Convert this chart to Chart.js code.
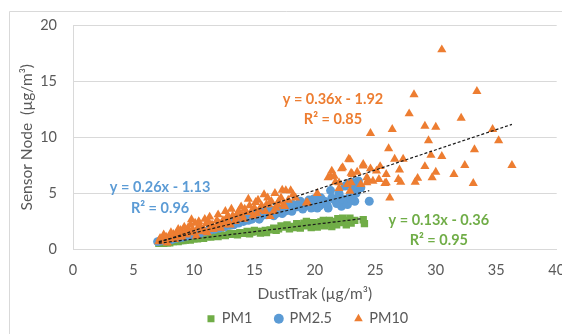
<!DOCTYPE html>
<html>
<head>
<meta charset="utf-8">
<script src="https://cdn.jsdelivr.net/npm/chart.js@4"></script>
<style>
  html, body { margin: 0; padding: 0; background: #ffffff; }
  #wrap { width: 562px; height: 334px; position: relative; }
</style>
</head>
<body>
<div id="wrap"><canvas id="c" width="562" height="334"></canvas></div>
<script>
// ---------- data ----------
const seriesNames = ["PM1", "PM2.5", "PM10"];

const pm1X = [7.1,7.3,7.5,7.6,7.8,8.0,8.1,8.3,8.5,8.7,8.9,9.1,9.3,9.5,9.7,10.0,10.3,10.6,11.1,11.4,11.8,12.2,12.6,13.0,13.4,13.8,14.1,14.4,14.8,15.2,15.5,15.9,16.3,16.6,17.0,17.4,17.7,18.0,18.3,18.6,18.8,19.1,19.4,19.7,20.0,20.3,20.5,20.8,21.1,21.4,21.6,21.9,22.1,22.4,22.6,22.9,23.0,23.3,24.0,24.1,
  10.8,12.0,12.9,13.6,14.6,15.0,15.7,16.0,16.8,17.2,17.9,18.5,19.3,19.9,20.2,20.7,21.2,21.8,22.3,22.7];
const pm1Y = [0.55,0.6,0.55,0.65,0.6,0.6,0.7,0.7,0.75,0.7,0.8,0.8,0.85,0.9,0.85,0.95,0.95,1.05,1.15,1.1,1.2,1.3,1.25,1.35,1.4,1.5,1.45,1.6,1.55,1.6,1.46,1.7,1.75,1.9,1.85,2.0,2.2,2.05,1.95,2.15,1.9,2.35,2.1,1.95,2.2,2.3,2.45,2.1,2.3,2.05,2.5,2.75,2.4,2.55,2.2,2.8,2.35,2.6,2.65,2.3,
  1.0,1.15,1.45,1.3,1.4,1.7,1.6,1.5,1.7,2.1,1.85,2.3,2.5,2.4,2.0,2.6,2.6,2.2,2.8,2.6];

const pm25X = [7.0,7.2,7.4,7.6,7.9,8.2,8.5,8.8,9.1,9.4,9.8,10.1,10.5,10.9,11.3,11.7,12.1,12.5,12.9,13.3,13.7,14.1,14.5,14.8,15.2,15.6,16.0,16.4,16.8,17.1,17.5,18.0,18.4,18.8,19.2,19.7,20.0,20.4,20.8,21.1,21.3,21.6,21.9,22.2,22.5,22.9,23.2,23.3,23.5,23.6,22.5,24.5,19.5,20.5,18.2,17.8,16.6,15.5,14.0,13.0,
  13.5,14.3,14.9,15.4,15.8,16.2,16.9,17.3,17.6,18.1,18.6,19.0,19.4,19.9,20.2,20.6,21.0,21.4,21.8,22.0,22.3,22.7,23.0,23.4,23.8,22.8,23.1];
const pm25Y = [0.7,0.75,0.8,0.75,0.85,0.9,1.0,1.05,1.1,1.2,1.3,1.35,1.45,1.6,1.7,1.8,1.9,2.0,2.15,2.2,2.35,2.5,2.6,2.7,2.95,3.0,3.1,3.35,3.2,3.55,3.4,3.7,3.9,4.3,4.0,3.7,4.15,3.9,4.3,3.7,5.25,4.45,4.6,3.85,4.3,4.75,5.35,4.3,5.95,6.1,5.65,4.3,4.4,4.6,4.0,3.5,3.0,3.3,2.8,2.5,
  2.6,2.9,3.1,2.7,3.4,3.6,3.7,3.2,3.9,3.4,3.8,3.6,4.1,4.5,3.7,4.1,4.0,4.6,4.1,5.0,4.5,4.0,4.5,5.0,5.5,5.9,6.0];

const pm10X = [7.1,7.3,7.4,7.6,7.7,7.9,8.0,8.2,8.3,8.5,8.6,8.8,8.9,9.1,9.3,9.5,9.6,9.8,9.9,10.1,10.3,10.5,10.8,11.0,11.2,11.4,11.6,11.9,12.1,12.4,12.7,12.9,13.2,13.5,13.7,14.0,14.2,14.5,14.7,15.0,15.1,15.4,15.8,16.0,16.2,16.3,16.6,16.8,16.9,17.2,17.4,17.5,17.6,18.0,18.4,19.3,19.4,20.2,21.1,21.3,21.4,21.7,22.0,22.0,22.2,22.3,22.8,22.9,22.9,23.0,23.1,23.0,24.0,24.0,24.3,24.4,24.6,24.6,24.8,25.1,25.3,25.4,25.8,25.9,26.1,26.2,26.4,26.6,26.9,27.0,27.1,27.3,27.8,28.2,28.3,28.5,29.1,29.1,29.4,29.6,29.7,30.0,30.0,30.5,30.5,31.5,32.1,32.4,33.1,33.2,33.4,34.7,35.2,36.3,
  7.2,7.5,7.8,8.1,8.4,8.7,9.0,9.2,9.4,9.7,10.0,10.2,10.4,10.6,10.9,11.1,11.3,11.5,11.8,12.0,12.2,12.5,12.6,12.8,13.0,13.1,13.4,13.6,13.9,14.1,14.3,14.6,14.9,15.2,15.3,15.6,15.9,16.1,16.4,16.7,17.0,17.3,17.8,18.2,21.6,22.7,23.5,23.8,24.3,25.9];
const pm10Y = [0.7,0.8,0.95,0.75,1.1,0.9,1.2,1.0,1.35,1.15,1.5,1.3,1.7,1.4,1.6,1.9,1.5,2.66,1.75,2.36,1.9,2.1,1.8,2.3,2.5,2.0,1.8,2.6,2.3,2.6,2.8,2.4,3.0,2.8,3.4,3.0,3.6,4.5,3.3,3.7,4.2,3.5,4.9,4.0,4.0,2.96,3.4,3.7,4.0,4.6,4.0,3.85,5.25,5.25,4.6,4.15,4.15,5.0,6.4,6.5,7.0,6.0,5.45,5.95,7.2,7.3,8.05,8.0,5.2,6.8,6.7,5.95,7.6,7.45,6.4,6.2,7.2,10.35,6.1,7.0,6.25,7.4,5.9,5.95,9.0,4.6,10.7,8.05,6.25,7.1,6.0,8.05,12.1,13.8,6.0,6.35,11.0,7.4,9.7,8.4,6.4,10.9,6.9,17.8,8.3,6.7,11.7,7.5,5.9,8.9,14.1,10.7,9.7,7.5,
  1.0,1.3,0.6,1.5,0.9,1.8,1.1,2.0,1.3,2.2,1.5,1.2,2.5,1.6,2.7,1.5,2.9,2.2,2.0,3.1,1.9,2.2,3.4,3.0,2.2,3.6,2.5,3.2,3.8,2.7,3.3,3.9,3.0,3.2,4.4,3.9,3.4,4.6,4.3,5.0,4.3,5.3,4.4,4.9,6.55,5.8,6.9,5.8,5.95,6.7];

// trendline equations shown on the chart: y = slope * x + intercept
const trendSlope = [0.13, 0.26, 0.36];
const trendIntercept = [-0.36, -1.13, -1.92];
const trendXFrom = [7.1, 7.1, 7.1];
const trendXTo = [23.9, 24.5, 36.3];
const trendLabels = [
  ["y = 0.13x - 0.36", "R\u00B2 = 0.95"],
  ["y = 0.26x - 1.13", "R\u00B2 = 0.96"],
  ["y = 0.36x - 1.92", "R\u00B2 = 0.85"]
];

const xTicksMin = 0, xTicksMax = 40, xStep = 5;
const yTicksMin = 0, yTicksMax = 20, yStep = 5;

// ---------- styling ----------
const colors = ["#70AD47", "#5B9BD5", "#ED7D31"];
const shapes = ["rect", "circle", "triangle"];
const radii = [5.2, 4.5, 5.3];
const txtColor = "#595959";
const gridColor = "#D9D9D9";
const FONT = "Lato, 'Open Sans', 'DejaVu Sans', sans-serif";

const xs = [pm1X, pm25X, pm10X];
const ys = [pm1Y, pm25Y, pm10Y];

const datasets = [];
for (let s = 0; s < 3; s++) {
  datasets.push({
    type: "scatter",
    label: seriesNames[s],
    data: xs[s].map((x, i) => ({ x: x, y: ys[s][i] })),
    pointStyle: shapes[s],
    pointRadius: radii[s],
    pointHoverRadius: radii[s],
    backgroundColor: colors[s],
    borderColor: colors[s],
    pointBorderWidth: 0,
    order: 3 - s
  });
}
for (let s = 0; s < 3; s++) {
  datasets.push({
    type: "line",
    label: "trend " + seriesNames[s],
    data: [trendXFrom[s], trendXTo[s]].map(x => ({ x: x, y: trendSlope[s] * x + trendIntercept[s] })),
    borderColor: "#1a1a1a",
    borderWidth: 1.2,
    borderDash: [3, 2],
    pointRadius: 0,
    fill: false,
    order: 0
  });
}

// annotation anchors (data coordinates), one per series
const annot = [
  { x: 30.25, y: 2.58, dy: 1.8 },
  { x: 7.2, y: 5.5, dy: 1.8 },
  { x: 21.5, y: 13.4, dy: 1.8 }
];

const framePlugin = {
  id: "frame",
  beforeDraw(chart) {
    const ctx = chart.ctx;
    ctx.save();
    ctx.strokeStyle = gridColor;
    ctx.lineWidth = 1;
    ctx.beginPath();
    ctx.moveTo(9.5, 400);
    ctx.lineTo(9.5, 11.5);
    ctx.lineTo(700, 11.5);
    ctx.stroke();
    ctx.restore();
  }
};

// nudge the legend box a little to the left (the reference legend sits left of the plot centre)
const legendShift = {
  id: "legendShift",
  afterLayout(chart) {
    if (chart.legend) { chart.legend.right -= 14; chart.legend.width -= 14; }
  }
};

const labelPlugin = {
  id: "eqLabels",
  afterDatasetsDraw(chart) {
    const ctx = chart.ctx;
    const sx = chart.scales.x, sy = chart.scales.y;
    ctx.save();
    ctx.font = "bold 14.5px " + FONT;
    ctx.textAlign = "center";
    ctx.textBaseline = "middle";
    for (let s = 0; s < 3; s++) {
      ctx.fillStyle = colors[s];
      const px = sx.getPixelForValue(annot[s].x);
      ctx.fillText(trendLabels[s][0], px, sy.getPixelForValue(annot[s].y));
      ctx.fillText(trendLabels[s][1], px, sy.getPixelForValue(annot[s].y - annot[s].dy));
    }
    ctx.restore();
  }
};

new Chart(document.getElementById("c"), {
  type: "scatter",
  data: { datasets: datasets },
  plugins: [framePlugin, legendShift, labelPlugin],
  options: {
    responsive: false,
    animation: false,
    devicePixelRatio: 1,
    layout: { padding: { left: 10, top: 25, right: 4, bottom: -2 } },
    plugins: {
      tooltip: { enabled: false },
      legend: {
        position: "bottom",
        fullSize: false,
        labels: {
          usePointStyle: true,
          boxWidth: 7,
          boxHeight: 7,
          padding: 23,
          color: txtColor,
          font: { family: FONT, size: 14.5 },
          filter: (item) => item.datasetIndex < 3,
          sort: (a, b) => a.datasetIndex - b.datasetIndex
        }
      }
    },
    scales: {
      x: {
        type: "linear",
        min: xTicksMin, max: xTicksMax,
        ticks: { stepSize: xStep, color: txtColor, padding: 12, font: { family: FONT, size: 14.5 }, maxRotation: 0 },
        grid: { display: false, drawTicks: false },
        border: { display: true, color: gridColor, width: 1 },
        title: { display: true, text: "DustTrak (\u00B5g/m\u00B3)", color: txtColor, font: { family: FONT, size: 15.5 }, padding: { top: 0, bottom: -14.3 } },
        afterFit: (s) => { s.height = 39; s.paddingLeft = 0; s.paddingRight = 0; }
      },
      y: {
        type: "linear",
        min: yTicksMin, max: yTicksMax,
        ticks: { stepSize: yStep, color: txtColor, padding: 16, font: { family: FONT, size: 14.5 } },
        grid: { display: true, color: gridColor, drawTicks: false, lineWidth: 1 },
        border: { display: true, color: gridColor, width: 1 },
        title: { display: true, text: "Sensor Node  (\u00B5g/m\u00B3)", color: txtColor, font: { family: FONT, size: 15.5 }, padding: { top: 7.7, bottom: 0 } },
        afterFit: (s) => { s.width = 63; s.paddingTop = 0; s.paddingBottom = 0; }
      }
    }
  }
});
</script>
</body>
</html>
